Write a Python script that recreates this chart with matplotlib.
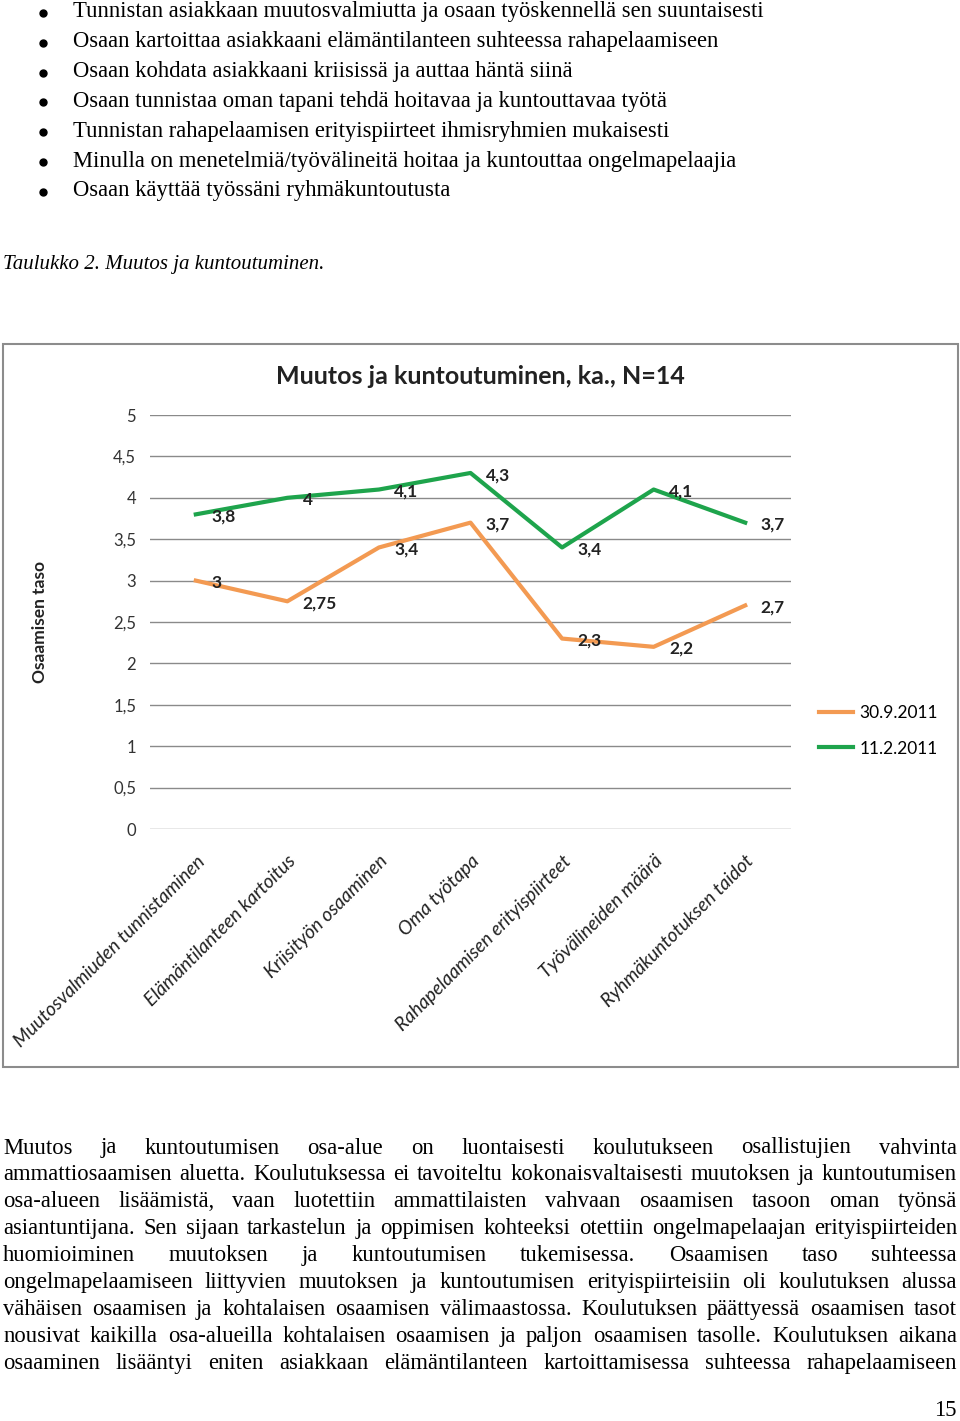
import matplotlib
matplotlib.use("Agg")
import matplotlib.pyplot as plt
from matplotlib.lines import Line2D
from matplotlib.patches import Rectangle

W, H = 960, 1421

# chart data
categories = [
    "Muutosvalmiuden tunnistaminen",
    "Elämäntilanteen kartoitus",
    "Kriisityön osaaminen",
    "Oma työtapa",
    "Rahapelaamisen erityispiirteet",
    "Työvälineiden määrä",
    "Ryhmäkuntotuksen taidot",
]
values_sep = [3, 2.75, 3.4, 3.7, 2.3, 2.2, 2.7]    # 30.9.2011
values_feb = [3.8, 4, 4.1, 4.3, 3.4, 4.1, 3.7]     # 11.2.2011
series_names = ["30.9.2011", "11.2.2011"]
y_ticks = [0, 0.5, 1, 1.5, 2, 2.5, 3, 3.5, 4, 4.5, 5]

bullets = [
    "Tunnistan asiakkaan muutosvalmiutta ja osaan työskennellä sen suuntaisesti",
    "Osaan kartoittaa asiakkaani elämäntilanteen suhteessa rahapelaamiseen",
    "Osaan kohdata asiakkaani kriisissä ja auttaa häntä siinä",
    "Osaan tunnistaa oman tapani tehdä hoitavaa ja kuntouttavaa työtä",
    "Tunnistan rahapelaamisen erityispiirteet ihmisryhmien mukaisesti",
    "Minulla on menetelmiä/työvälineitä hoitaa ja kuntouttaa ongelmapelaajia",
    "Osaan käyttää työssäni ryhmäkuntoutusta",
]
caption = "Taulukko 2. Muutos ja kuntoutuminen."
paragraph = [
    "Muutos ja kuntoutumisen osa-alue on luontaisesti koulutukseen osallistujien vahvinta",
    "ammattiosaamisen aluetta. Koulutuksessa ei tavoiteltu kokonaisvaltaisesti muutoksen ja kuntoutumisen",
    "osa-alueen lisäämistä, vaan luotettiin ammattilaisten vahvaan osaamisen tasoon oman työnsä",
    "asiantuntijana. Sen sijaan tarkastelun ja oppimisen kohteeksi otettiin ongelmapelaajan erityispiirteiden",
    "huomioiminen muutoksen ja kuntoutumisen tukemisessa. Osaamisen taso suhteessa",
    "ongelmapelaamiseen liittyvien muutoksen ja kuntoutumisen erityispiirteisiin oli koulutuksen alussa",
    "vähäisen osaamisen ja kohtalaisen osaamisen välimaastossa. Koulutuksen päättyessä osaamisen tasot",
    "nousivat kaikilla osa-alueilla kohtalaisen osaamisen ja paljon osaamisen tasolle. Koulutuksen aikana",
    "osaaminen lisääntyi eniten asiakkaan elämäntilanteen kartoittamisessa suhteessa rahapelaamiseen",
]

ORANGE = "#F39A52"
GREEN = "#1EA44C"
SERIF = "Liberation Serif"
SANS = "Lato"
BODY = 16.3


def fx(x):
    return x / W


def fy(y):
    return 1 - y / H


fig = plt.figure(figsize=(W / 100, H / 100), dpi=100)
fig.patch.set_facecolor("white")

# bullet list above the chart
for i, line in enumerate(bullets):
    y = 12 + 29.8 * i
    fig.add_artist(Line2D([fx(43)], [fy(y + 1)], marker="o", markersize=5,
                          color="black", transform=fig.transFigure))
    fig.text(fx(73), fy(y), line, fontsize=BODY, family=SERIF, ha="left", va="center")

fig.text(fx(3), fy(264), caption, fontsize=15, family=SERIF, style="italic",
         ha="left", va="center")

# chart frame
fig.patches.append(Rectangle((fx(3), fy(1067)), fx(955), (1067 - 344) / H,
                             transform=fig.transFigure, fill=False,
                             edgecolor="#8c8c8c", linewidth=1.5))

ax = fig.add_axes([fx(150), fy(829), fx(791 - 150), (829 - 415) / H])
x = list(range(len(categories)))
ax.plot(x, values_sep, color=ORANGE, linewidth=3, label=series_names[0])
ax.plot(x, values_feb, color=GREEN, linewidth=3, label=series_names[1])

for vals in [values_sep, values_feb]:
    for xi, v in zip(x, vals):
        ax.annotate(f"{v:g}".replace(".", ","), (xi, v), xytext=(11, -1.5),
                    textcoords="offset points", ha="left", va="center",
                    fontsize=12.5, fontweight="bold", family=SANS, color="#222222")

ax.set_xlim(-0.5, len(categories) - 0.5)
ax.set_ylim(0, 5)
ax.set_yticks(y_ticks)
ax.set_yticklabels([f"{t:g}".replace(".", ",") for t in y_ticks],
                   fontsize=12, family=SANS, color="#333333")
ax.set_xticks(x)
ax.set_xticklabels(categories, rotation=45, ha="right", rotation_mode="anchor",
                   fontsize=13.8, family=SANS, style="italic", color="#222222")
ax.tick_params(axis="y", length=0, pad=10)
ax.tick_params(axis="x", length=0, pad=17)
ax.grid(axis="y", color="#8a8a8a", linewidth=1)
ax.set_axisbelow(True)
for s in ax.spines.values():
    s.set_visible(False)

fig.text(fx(40), fy(622), "Osaamisen taso", rotation=90, fontsize=12.5,
         fontweight="bold", family=SANS, ha="center", va="center", color="#222222")
fig.text(fx(480), fy(377), "Muutos ja kuntoutuminen, ka., N=14", fontsize=18,
         fontweight="bold", family=SANS, ha="center", va="center", color="#222222")

ax.legend(loc="center left", bbox_to_anchor=(fx(803), fy(731)),
          bbox_transform=fig.transFigure, frameon=False, handlelength=2.0,
          handletextpad=0.35, labelspacing=1.1,
          prop={"family": SANS, "size": 12.5})

# justified paragraph below the chart
renderer = fig.canvas.get_renderer()
left, right = 3, 957
for i, line in enumerate(paragraph):
    y = 1148 + 26.9 * i
    words = line.split()
    texts = [fig.text(0, fy(y), w, fontsize=BODY, family=SERIF, ha="left", va="center")
             for w in words]
    widths = [t.get_window_extent(renderer).width for t in texts]
    gap = (right - left - sum(widths)) / (len(words) - 1)
    pos = left
    for t, w in zip(texts, widths):
        t.set_x(fx(pos))
        pos += w + gap

fig.text(fx(957), fy(1410), "15", fontsize=BODY, family=SERIF, ha="right", va="center")

fig.savefig("out.png", dpi=100)
